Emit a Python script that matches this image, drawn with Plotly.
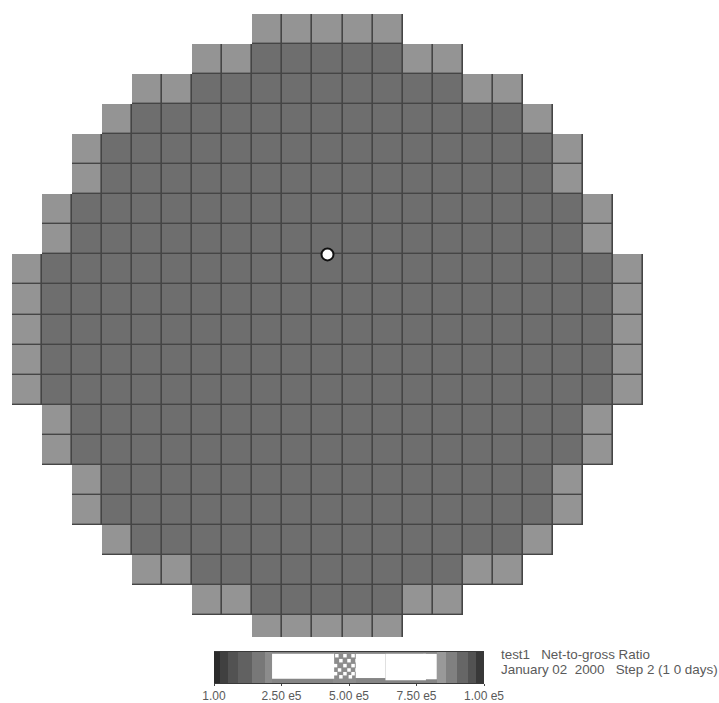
import plotly.graph_objects as go

N = None
D = 0.43
L = 0.58
# Net-to-gross grid, one list per reservoir row (grey level of each cell)
grid_rows = [
    [N,N,N,N,N,N,N,N,L,L,L,L,L,N,N,N,N,N,N,N,N],
    [N,N,N,N,N,N,L,L,D,D,D,D,D,L,L,N,N,N,N,N,N],
    [N,N,N,N,L,L,D,D,D,D,D,D,D,D,D,L,L,N,N,N,N],
    [N,N,N,L,D,D,D,D,D,D,D,D,D,D,D,D,D,L,N,N,N],
    [N,N,L,D,D,D,D,D,D,D,D,D,D,D,D,D,D,D,L,N,N],
    [N,N,L,D,D,D,D,D,D,D,D,D,D,D,D,D,D,D,L,N,N],
    [N,L,D,D,D,D,D,D,D,D,D,D,D,D,D,D,D,D,D,L,N],
    [N,L,D,D,D,D,D,D,D,D,D,D,D,D,D,D,D,D,D,L,N],
    [L,D,D,D,D,D,D,D,D,D,D,D,D,D,D,D,D,D,D,D,L],
    [L,D,D,D,D,D,D,D,D,D,D,D,D,D,D,D,D,D,D,D,L],
    [L,D,D,D,D,D,D,D,D,D,D,D,D,D,D,D,D,D,D,D,L],
    [L,D,D,D,D,D,D,D,D,D,D,D,D,D,D,D,D,D,D,D,L],
    [L,D,D,D,D,D,D,D,D,D,D,D,D,D,D,D,D,D,D,D,L],
    [N,L,D,D,D,D,D,D,D,D,D,D,D,D,D,D,D,D,D,L,N],
    [N,L,D,D,D,D,D,D,D,D,D,D,D,D,D,D,D,D,D,L,N],
    [N,N,L,D,D,D,D,D,D,D,D,D,D,D,D,D,D,D,L,N,N],
    [N,N,L,D,D,D,D,D,D,D,D,D,D,D,D,D,D,D,L,N,N],
    [N,N,N,L,D,D,D,D,D,D,D,D,D,D,D,D,D,L,N,N,N],
    [N,N,N,N,L,L,D,D,D,D,D,D,D,D,D,L,L,N,N,N,N],
    [N,N,N,N,N,N,L,L,D,D,D,D,D,L,L,N,N,N,N,N,N],
    [N,N,N,N,N,N,N,N,L,L,L,L,L,N,N,N,N,N,N,N,N],
]
GRID_LINE_SHADE = 0.27
well_col = [10.5]
well_row = [8.0]

# Legend strip: value-bin edges and the grey level of each bin
bin_edges = [0, 0.022, 0.05, 0.09, 0.14, 0.19, 0.215, 0.44, 0.525, 0.825, 0.86, 0.90, 0.94, 0.97, 1.0]
bin_shades = [0.17, 0.25, 0.32, 0.38, 0.47, 0.55, 0.52, 0.55, 0.52, 0.60, 0.50, 0.40, 0.32, 0.22]

# Histogram in the legend strip (white part: bin centre, width, lower edge)
hist_x = [0.33, 0.58, 0.71, 0.80]
hist_width = [0.23, 0.11, 0.15, 0.05]
hist_base = [0.14, 0.16, 0.09, 0.12]
hist_top = [0.94, 0.94, 0.94, 0.94]
hist_height = [t - b for t, b in zip(hist_top, hist_base)]

speckle_x = [0.455, 0.485, 0.515, 0.47, 0.50, 0.53, 0.45, 0.485, 0.515, 0.465, 0.50, 0.53, 0.45, 0.485, 0.515, 0.47, 0.505]
speckle_y = [0.88, 0.88, 0.88, 0.72, 0.72, 0.72, 0.56, 0.56, 0.56, 0.42, 0.42, 0.42, 0.30, 0.30, 0.30, 0.20, 0.20]

tick_vals = [0, 0.25, 0.5, 0.75, 1.0]
tick_text = ["1.00", "2.50 e5", "5.00 e5", "7.50 e5", "1.00 e5"]
caption_lines = ["test1   Net-to-gross Ratio", "January 02  2000   Step 2 (1 0 days)"]

W, H = 719, 703
greys = [[0, "#000000"], [1, "#ffffff"]]
TEXT = "#5a5a5a"

fig = go.Figure()
mask = [[GRID_LINE_SHADE if v is not None else None for v in row] for row in grid_rows]
common = dict(x0=0.5, dx=1, y0=0.5, dy=1, zmin=0, zmax=1, colorscale=greys,
              showscale=False, hoverinfo="skip", xaxis="x", yaxis="y")
fig.add_trace(go.Heatmap(z=mask, **common))
fig.add_trace(go.Heatmap(z=grid_rows, xgap=1.6, ygap=1.4, **common))
fig.add_trace(go.Scatter(x=well_col, y=well_row, mode="markers", xaxis="x", yaxis="y",
                         marker=dict(size=12, color="white", line=dict(color="#111111", width=2)),
                         hoverinfo="skip"))

fig.add_trace(go.Heatmap(x=bin_edges, y=[0, 1], z=[bin_shades], zmin=0, zmax=1, colorscale=greys,
                         showscale=False, hoverinfo="skip", xaxis="x2", yaxis="y2"))
fig.add_trace(go.Bar(x=hist_x, y=hist_height, base=hist_base, width=hist_width,
                     marker=dict(color="white", line=dict(width=0)), hoverinfo="skip",
                     xaxis="x2", yaxis="y2"))
fig.add_trace(go.Scatter(x=speckle_x, y=speckle_y, mode="markers", xaxis="x2", yaxis="y2",
                         marker=dict(size=3.5, color="white", symbol="square"), hoverinfo="skip"))

annotations = [
    dict(x=499 / W, y=1 - 654 / H, text=caption_lines[0]),
    dict(x=499 / W, y=1 - 669 / H, text=caption_lines[1]),
]
for a in annotations:
    a.update(xref="paper", yref="paper", xanchor="left", yanchor="middle", showarrow=False,
             font=dict(family="Liberation Sans", size=13.4, color=TEXT))

fig.update_layout(
    width=W, height=H, autosize=False,
    margin=dict(l=0, r=0, t=0, b=0, pad=0, autoexpand=False),
    paper_bgcolor="white", plot_bgcolor="white", showlegend=False, annotations=annotations,
    font=dict(family="Liberation Sans", color=TEXT),
    xaxis=dict(domain=[12 / W, 643 / W], range=[0, 21], visible=False, fixedrange=True),
    yaxis=dict(domain=[1 - 637 / H, 1 - 14 / H], range=[20.73, 0], visible=False, fixedrange=True),
    xaxis2=dict(domain=[214 / W, 484 / W], range=[0, 1], anchor="y2", tickmode="array",
                tickvals=tick_vals, ticktext=tick_text, ticks="outside", ticklen=2, tickwidth=1,
                tickcolor="#444444", showline=True, linecolor="#3a3a3a", linewidth=1, mirror=True,
                showgrid=False, zeroline=False, tickfont=dict(size=12, color=TEXT), fixedrange=True),
    yaxis2=dict(domain=[1 - 683 / H, 1 - 652 / H], range=[0, 1], anchor="x2", visible=False,
                fixedrange=True),
)
fig.write_html("out.html", config={"displayModeBar": False},
               post_script="document.body.style.margin='0';document.documentElement.style.overflow='hidden';")
